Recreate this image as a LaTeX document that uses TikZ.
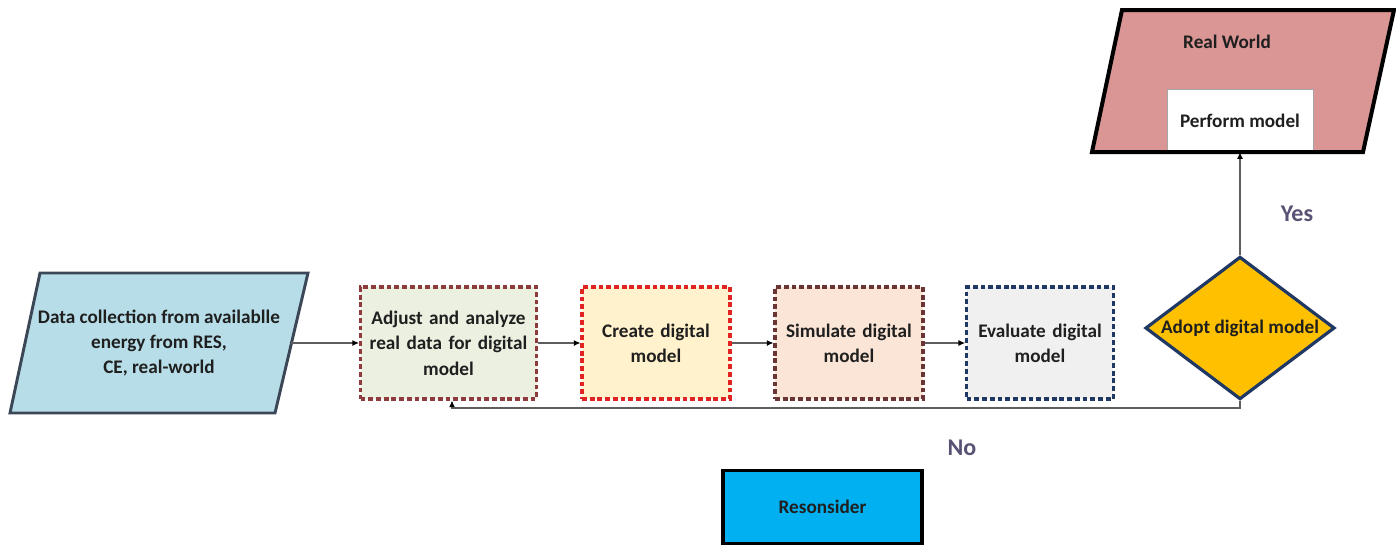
\documentclass[tikz,border=0pt]{standalone}
\usepackage{fontspec}
\setmainfont{Carlito}
\usetikzlibrary{shapes.geometric,arrows.meta}
\definecolor{datafill}{HTML}{B7DEE8}
\definecolor{databorder}{HTML}{3B4656}
\definecolor{adjfill}{HTML}{EBF0E1}
\definecolor{adjborder}{HTML}{8E3B3B}
\definecolor{createfill}{HTML}{FFF2CC}
\definecolor{createborder}{HTML}{E02424}
\definecolor{simfill}{HTML}{FBE5D6}
\definecolor{simborder}{HTML}{6A3535}
\definecolor{evalfill}{HTML}{F0F0F0}
\definecolor{evalborder}{HTML}{1F3864}
\definecolor{adoptfill}{HTML}{FFC000}
\definecolor{realfill}{HTML}{D99694}
\definecolor{recfill}{HTML}{00B0F0}
\definecolor{labelcol}{HTML}{5A5274}
\definecolor{linecol}{HTML}{5E5E5E}
\begin{document}
\begin{tikzpicture}[x=0.75pt,y=-0.75pt,
  txt/.style={font=\fontsize{14.4}{19}\selectfont\bfseries, text=black!88, align=center},
  stepbox/.style={draw, dashed, dash pattern=on 3.6pt off 2.2pt, line width=2.3pt,
    minimum height=84pt, inner sep=2pt, txt},
  flow/.style={draw=linecol, line width=0.8pt, -{Latex[length=5pt,width=4.5pt,fill=black,color=black]}},
  answer/.style={font=\fontsize{18}{20}\selectfont\bfseries, text=labelcol}]
\useasboundingbox (0,0) rectangle (1396,544);

% input parallelogram
\coordinate (d1) at (40,273);
\coordinate (d2) at (308,273);
\coordinate (d3) at (275,413);
\coordinate (d4) at (10,413);
\filldraw[fill=datafill, draw=databorder, line width=2.2pt, line join=miter] (d1) -- (d2) -- (d3) -- (d4) -- cycle;
\node[txt] (data) at (159,343) {Data collection from availablle\\energy from RES,\\CE, real-world};
\coordinate (dataout) at (291,343);

% processing steps
\node[stepbox, fill=adjfill, draw=adjborder, minimum width=132pt, text width=126pt] (adjust) at (448.5,343)
  {Adjust and analyze\\real data for digital\\model};
\node[stepbox, fill=createfill, draw=createborder, minimum width=111pt, text width=100pt] (create) at (656,343)
  {Create digital\\model};
\node[stepbox, fill=simfill, draw=simborder, minimum width=111pt, text width=100pt] (simulate) at (849,343)
  {Simulate digital\\model};
\node[stepbox, fill=evalfill, draw=evalborder, minimum width=110pt, text width=100pt] (evaluate) at (1040,343)
  {Evaluate digital\\model};

% decision
\node[diamond, fill=adoptfill, draw=evalborder, line width=2.4pt, inner sep=0pt,
  minimum width=142pt, minimum height=107pt] (adopt) at (1240,328) {};
\node[txt] at (adopt) {Adopt digital model};

% real world
\coordinate (r1) at (1122,10);
\coordinate (r2) at (1394,10);
\coordinate (r3) at (1363,152);
\coordinate (r4) at (1092,152);
\filldraw[fill=realfill, draw=black, line width=3pt, line join=miter] (r1) -- (r2) -- (r3) -- (r4) -- cycle;
\node[txt] (real) at (1227,42) {Real World};
\node[fill=white, draw=gray!70, line width=0.6pt, minimum width=109.5pt, minimum height=47pt, inner sep=0pt, txt]
  (perform) at (1240,120.5) {Perform model};
\draw[black, line width=3pt] (r4) -- (r3);

% reconsider
\node[fill=recfill, draw=black, line width=2.6pt, minimum width=149pt, minimum height=55pt, inner sep=0pt, txt]
  (reconsider) at (822.5,507) {Resonsider};

% connectors
\draw[flow] (dataout) -- (adjust.west);
\draw[flow] (adjust) -- (create);
\draw[flow] (create) -- (simulate);
\draw[flow] (simulate) -- (evaluate);
\draw[flow] (adopt.north) -- (perform.south);
\coordinate (back) at (452,408);
\draw[flow] (adopt.south) |- (back) -- (back |- adjust.south);

% answers
\node[answer] (yes) at (1297,214) {Yes};
\node[answer] (no) at (962,448) {No};
\end{tikzpicture}
\end{document}
